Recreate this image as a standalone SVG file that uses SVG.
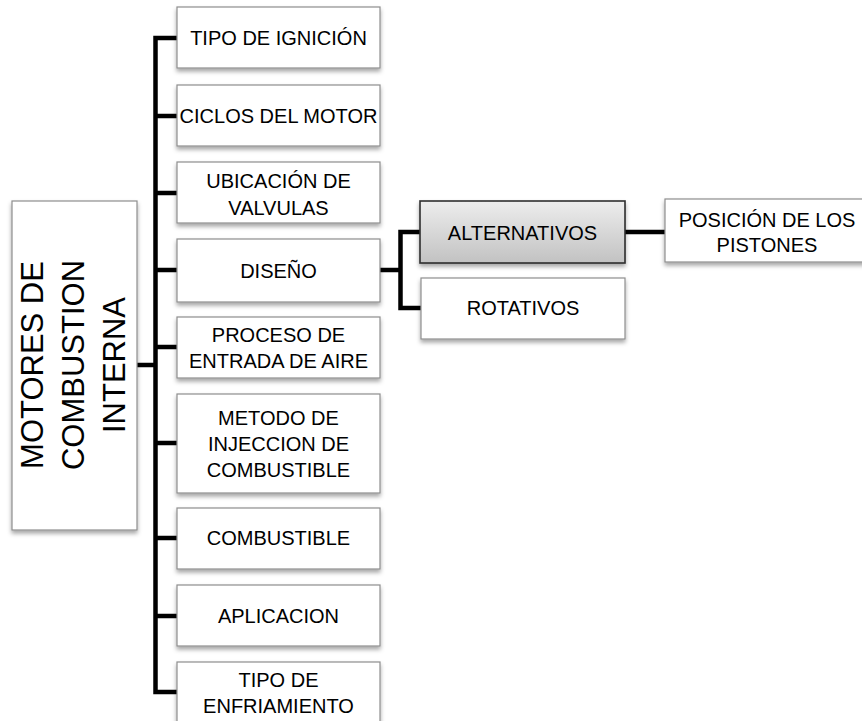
<svg xmlns="http://www.w3.org/2000/svg" width="862" height="721" viewBox="0 0 862 721">
  <defs>
    <filter id="sh" x="-10%" y="-10%" width="125%" height="130%">
      <feDropShadow dx="0" dy="3" stdDeviation="2" flood-color="#000" flood-opacity="0.35"/>
    </filter>
    <linearGradient id="gray" x1="0" y1="0" x2="0" y2="1">
      <stop offset="0" stop-color="#ededed"/>
      <stop offset="1" stop-color="#c2c2c2"/>
    </linearGradient>
    <style>
      .box { fill: #ffffff; stroke: #8e8e8e; stroke-width: 1.2; filter: url(#sh); }
      .dark { fill: url(#gray); stroke: #2e2e2e; stroke-width: 1.6; filter: url(#sh); }
      .t { font-family: "Liberation Sans", Arial, sans-serif; font-size: 20px; fill: #000; text-anchor: middle; }
      .root { font-family: "Liberation Sans", Arial, sans-serif; font-size: 31px; fill: #000; text-anchor: middle; }
      .c { fill: none; stroke: #000; stroke-width: 4.5; stroke-linejoin: miter; stroke-linecap: butt; }
    </style>
  </defs>
  <rect width="862" height="721" fill="#ffffff"/>

  <g id="connectors">
    <path class="c" d="M177 38 H155.5 V692 H177"/>
    <path class="c" d="M155.5 116 H177 M155.5 193 H177 M155.5 270 H177 M155.5 347 H177 M155.5 443 H177 M155.5 538 H177 M155.5 616 H177"/>
    <path class="c" d="M137 365 H155.5"/>
    <path class="c" d="M380 270 H400.5"/>
    <path class="c" d="M420 232 H400.5 V308 H421"/>
    <path class="c" d="M625 232 H665"/>
  </g>

  <g id="root">
    <rect class="box" x="12" y="201" width="125" height="329"/>
    <g transform="translate(0,365) rotate(-90)">
      <text class="root" x="0" y="43">MOTORES DE</text>
      <text class="root" x="0" y="84">COMBUSTION</text>
      <text class="root" x="0" y="125">INTERNA</text>
    </g>
  </g>

  <g id="n1">
    <rect class="box" x="177" y="7" width="203" height="61"/>
    <text class="t" x="278.5" y="45">TIPO DE IGNICIÓN</text>
  </g>
  <g id="n2">
    <rect class="box" x="177" y="85" width="203" height="61"/>
    <text class="t" x="278.5" y="123">CICLOS DEL MOTOR</text>
  </g>
  <g id="n3">
    <rect class="box" x="177" y="162" width="203" height="61"/>
    <text class="t" x="278.5" y="188">UBICACIÓN DE</text>
    <text class="t" x="278.5" y="215">VALVULAS</text>
  </g>
  <g id="n4">
    <rect class="box" x="177" y="239" width="203" height="63"/>
    <text class="t" x="278.5" y="278">DISEÑO</text>
  </g>
  <g id="n5">
    <rect class="box" x="177" y="317" width="203" height="61"/>
    <text class="t" x="278.5" y="342">PROCESO DE</text>
    <text class="t" x="278.5" y="368">ENTRADA DE AIRE</text>
  </g>
  <g id="n6">
    <rect class="box" x="177" y="394" width="203" height="99"/>
    <text class="t" x="278.5" y="425">METODO DE</text>
    <text class="t" x="278.5" y="451">INJECCION DE</text>
    <text class="t" x="278.5" y="477">COMBUSTIBLE</text>
  </g>
  <g id="n7">
    <rect class="box" x="177" y="508" width="203" height="61"/>
    <text class="t" x="278.5" y="545">COMBUSTIBLE</text>
  </g>
  <g id="n8">
    <rect class="box" x="177" y="585" width="203" height="61"/>
    <text class="t" x="278.5" y="623">APLICACION</text>
  </g>
  <g id="n9">
    <rect class="box" x="177" y="662" width="203" height="62"/>
    <text class="t" x="278.5" y="687">TIPO DE</text>
    <text class="t" x="278.5" y="713">ENFRIAMIENTO</text>
  </g>

  <g id="alternativos">
    <rect class="dark" x="420" y="201" width="205" height="62"/>
    <text class="t" x="522.5" y="240">ALTERNATIVOS</text>
  </g>
  <g id="rotativos">
    <rect class="box" x="421" y="278" width="204" height="61"/>
    <text class="t" x="523" y="315">ROTATIVOS</text>
  </g>
  <g id="posicion">
    <rect class="box" x="665" y="199" width="205" height="63"/>
    <text class="t" x="767" y="227">POSICIÓN DE LOS</text>
    <text class="t" x="767" y="252">PISTONES</text>
  </g>
</svg>
